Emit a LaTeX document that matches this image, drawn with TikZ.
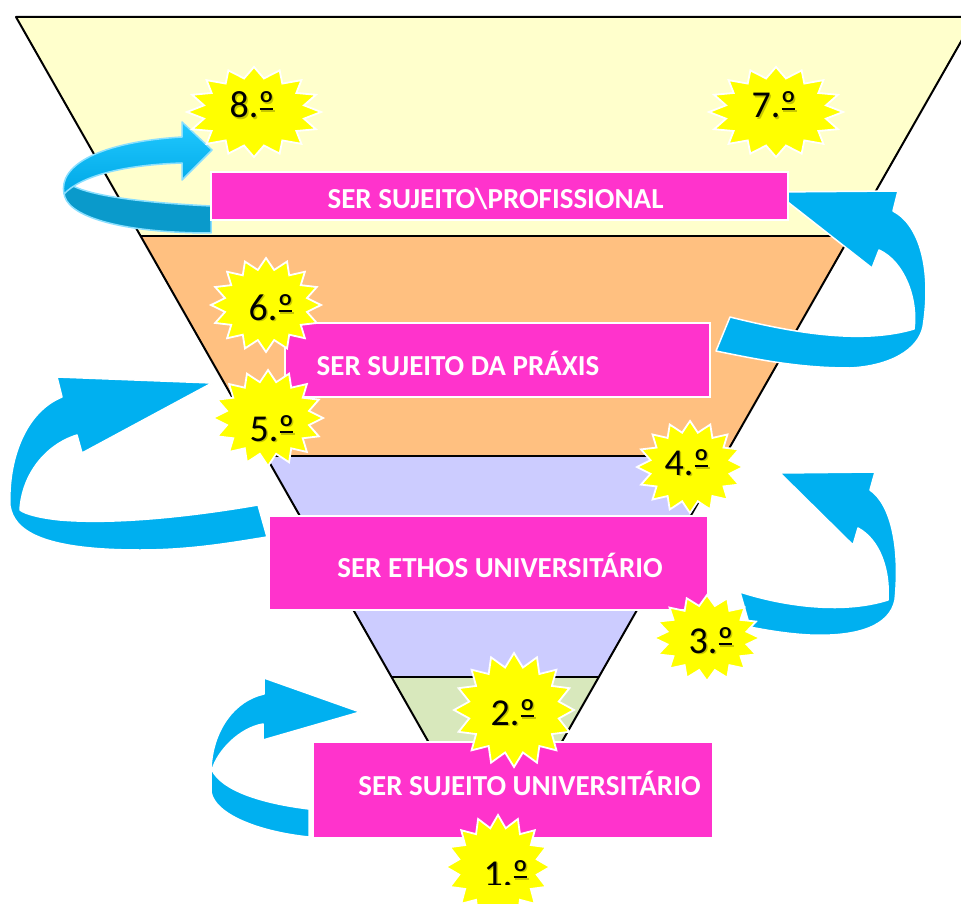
\documentclass[tikz,border=0pt]{standalone}
\usepackage{fontspec}
\setmainfont{Carlito}
\definecolor{bandyellow}{HTML}{FFFFCC}
\definecolor{bandorange}{HTML}{FFC080}
\definecolor{bandlav}{HTML}{CCCCFF}
\definecolor{bandgreen}{HTML}{D8E8BC}
\definecolor{boxpink}{HTML}{FF33CC}
\definecolor{arrowblue}{HTML}{00B0F0}
\definecolor{arrowtop}{HTML}{20C8FF}
\definecolor{arrowbot}{HTML}{00A8E6}
\definecolor{arrowdark}{HTML}{0A9ACB}
\definecolor{arrowglow}{HTML}{8ADFFF}
\definecolor{staryellow}{HTML}{FFFF00}
\newcommand\burstshape[4]{%
  \path[burst] plot[samples at={0,...,31}, variable=\k]
    ({#1+(1-0.24*mod(\k,2))*#3*cos(90+11.25*\k)},
     {#2+(1-0.24*mod(\k,2))*#4*sin(90+11.25*\k)}) -- cycle;}
\newcommand\ordmk{\setbox0=\hbox{º}\rlap{\hspace{0.03em}\rule[0.2em]{\dimexpr\wd0-0.06em\relax}{0.055em}}\box0}
\begin{document}
\begin{tikzpicture}[x=1pt,y=-1pt,
  funnelline/.style={line width=2pt, line join=round},
  sepline/.style={line width=2.6pt},
  pinkbox/.style={fill=boxpink, draw=white, line width=1.5pt, inner sep=0pt},
  boxtext/.style={text=white, font=\bfseries\fontsize{29}{29}\selectfont, inner sep=0pt, anchor=base},
  ordtext/.style={text=black, font=\fontsize{38}{38}\selectfont, inner sep=0pt, anchor=base},
  ordshadow/.style={text=black, opacity=0.22, font=\fontsize{38}{38}\selectfont, inner sep=0pt, anchor=base},
  bluearrow/.style={fill=arrowblue, draw=white, line width=1.5pt, line join=round},
  burst/.style={fill=staryellow, draw=white, line width=1.8pt, line join=miter},
]
\useasboundingbox (0,0) rectangle (961,904);
\clip (0,0) rectangle (961,904);

% funnel bands
\coordinate (L1) at (16,17);      \coordinate (R1) at (975,17);
\coordinate (L2) at (140.6,236);  \coordinate (R2) at (850.2,236);
\coordinate (L3) at (265.8,456);  \coordinate (R3) at (724.8,456);
\coordinate (L4) at (391.5,677);  \coordinate (R4) at (598.8,677);
\coordinate (L5) at (461.5,800);  \coordinate (R5) at (528.7,800);
\fill[bandyellow] (L1) -- (R1) -- (R2) -- (L2) -- cycle;
\fill[bandorange] (L2) -- (R2) -- (R3) -- (L3) -- cycle;
\fill[bandlav] (L3) -- (R3) -- (R4) -- (L4) -- cycle;
\fill[bandgreen] (L4) -- (R4) -- (R5) -- (L5) -- cycle;
\draw[funnelline] (L5) -- (L1) -- (R1) -- (R5);
\draw[sepline] (L2) -- (R2);
\draw[sepline] (L3) -- (R3);
\draw[sepline] (L4) -- (R4);

% arrow A (8.º loop)
\path[fill=arrowdark, draw=arrowglow, line width=1.5pt, line join=round]
  (211,206) .. controls (150,203) and (95,197) .. (73,186) -- (64,192)
  .. controls (64,216) and (120,233) .. (211,233) -- cycle;
\path[top color=arrowtop, bottom color=arrowbot, draw=arrowglow, line width=1.5pt, line join=round]
  (64,194) .. controls (58,165) and (100,142) .. (182,137) -- (182,122) -- (212,150)
  -- (182,180) -- (182,163) .. controls (120,165) and (80,177) .. (64,194) -- cycle;

% arrow B (7.º)
\path[bluearrow] (730,317) .. controls (790,332) and (860,345) .. (914,329)
  .. controls (918,300) and (905,262) .. (879,250) -- (872,268) -- (775,192) -- (898,191)
  -- (893,211) .. controls (920,225) and (932,270) .. (923,327)
  .. controls (918,350) and (890,366) .. (850,368) .. controls (800,368) and (760,360) .. (716,351) -- cycle;

% arrow C (5.º)
\path[bluearrow] (212,383) -- (57,377) -- (62,397) .. controls (25,412) and (8,460) .. (10,506)
  .. controls (14,530) and (40,550) .. (140,550) .. controls (190,550) and (230,543) .. (267,537)
  -- (258,505) .. controls (200,515) and (120,525) .. (60,520) .. controls (40,518) and (25,514) .. (20,510)
  .. controls (22,475) and (45,445) .. (77,435) -- (82,453) -- cycle;

% arrow D (3.º / 4.º)
\path[bluearrow] (780,473) -- (875,472) -- (870,490) .. controls (892,505) and (900,550) .. (895,600)
  .. controls (890,625) and (860,637) .. (810,635) .. controls (790,634) and (770,631) .. (750,627)
  -- (740,592) .. controls (780,605) and (840,615) .. (888,600)
  .. controls (890,570) and (880,540) .. (858,528) -- (853,545) -- cycle;

% arrow E (2.º)
\path[bluearrow] (360,712) -- (264,678) -- (264,694) .. controls (235,700) and (212,730) .. (211,770)
  -- (211,792) .. controls (215,815) and (260,832) .. (309,837) -- (309,809)
  .. controls (260,803) and (222,790) .. (212,770) .. controls (218,750) and (240,728) .. (263,724)
  -- (263,740) -- cycle;

% boxes
\node[pinkbox, minimum width=577pt, minimum height=48pt] (box1) at (499.5,196) {};
\node[pinkbox, minimum width=425pt, minimum height=74pt] (box2) at (497.5,360) {};
\node[pinkbox, minimum width=439pt, minimum height=94pt] (box3) at (488.5,563) {};
\node[pinkbox, minimum width=400pt, minimum height=96pt] (box4) at (513,790) {};
\node[boxtext] (t1) at (495.5,208) {SER SUJEITO\textbackslash PROFISSIONAL};
\node[boxtext] (t2) at (458,375) {SER SUJEITO DA PRÁXIS};
\node[boxtext] (t3) at (500,577) {SER ETHOS UNIVERSITÁRIO};
\node[boxtext] (t4) at (529.5,795) {SER SUJEITO UNIVERSITÁRIO};

% stars
\burstshape{254}{112}{67}{45}
\burstshape{776}{112}{67}{45}
\burstshape{266}{305}{55}{47}
\burstshape{268}{418}{55}{48}
\burstshape{690}{467}{53}{46}
\burstshape{707}{638}{53}{43}
\burstshape{514}{710}{60}{57}
\burstshape{498}{867}{52}{52}

\node[ordshadow] (s8) at (253.5,119.5) {8.\ordmk};
\node[ordtext] (o8) at (252,118) {8.\ordmk};
\node[ordshadow] (s7) at (775.5,119.5) {7.\ordmk};
\node[ordtext] (o7) at (774,118) {7.\ordmk};
\node[ordshadow] (s6) at (272.5,321.5) {6.\ordmk};
\node[ordtext] (o6) at (271,320) {6.\ordmk};
\node[ordshadow] (s5) at (273.5,442.5) {5.\ordmk};
\node[ordtext] (o5) at (272,441) {5.\ordmk};
\node[ordshadow] (s4) at (688.5,476.5) {4.\ordmk};
\node[ordtext] (o4) at (687,475) {4.\ordmk};
\node[ordshadow] (s3) at (712.5,654.5) {3.\ordmk};
\node[ordtext] (o3) at (711,653) {3.\ordmk};
\node[ordshadow] (s2) at (514.5,726.5) {2.\ordmk};
\node[ordtext] (o2) at (513,725) {2.\ordmk};
\begin{scope}
\clip (0,0) rectangle (961,884);
\node[ordshadow] (s1) at (507.5,887.5) {1.\ordmk};
\node[ordtext] (o1) at (506,886) {1.\ordmk};
\end{scope}
\end{tikzpicture}
\end{document}
